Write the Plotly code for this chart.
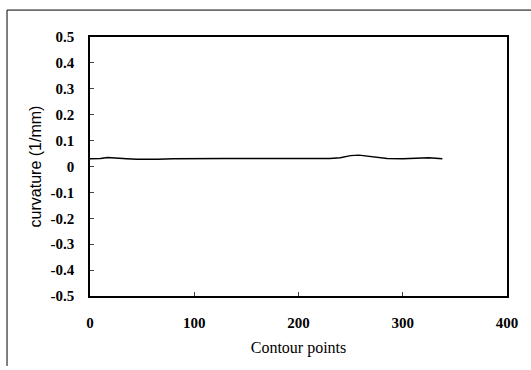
import plotly.graph_objects as go

x_points = [0, 10, 17, 25, 35, 45, 55, 65, 80, 100, 130, 160, 190, 210, 230, 240, 250, 258, 270, 285, 300, 315, 325, 338]
curvature = [0.030, 0.031, 0.035, 0.032, 0.030, 0.028, 0.027, 0.028, 0.030, 0.031, 0.031, 0.031, 0.031,
             0.032, 0.031, 0.034, 0.042, 0.044, 0.037, 0.031, 0.030, 0.032, 0.034, 0.030]
y_ticks = [0.5, 0.4, 0.3, 0.2, 0.1, 0, -0.1, -0.2, -0.3, -0.4, -0.5]
y_labels = ["0.5", "0.4", "0.3", "0.2", "0.1", "0", "-0.1", "-0.2", "-0.3", "-0.4", "-0.5"]
x_ticks = [0, 100, 200, 300, 400]

font = "Liberation Serif"

fig = go.Figure()
fig.add_trace(go.Scatter(x=x_points, y=curvature, mode="lines",
                         line=dict(color="black", width=1.4), showlegend=False))

fig.update_layout(
    width=531, height=370,
    margin=dict(l=90, r=24, t=37, b=74),
    paper_bgcolor="white", plot_bgcolor="white",
    font=dict(family=font, color="black", size=15),
    xaxis=dict(range=[0, 400], tickvals=x_ticks, ticks="inside", ticklen=4,
               showline=True, linecolor="black", linewidth=1.5, mirror=True,
               showgrid=False, zeroline=False, ticklabelstandoff=12,
               tickfont=dict(family=font, size=15, weight=600),
               title=dict(text="Contour points", font=dict(family=font, size=16), standoff=12)),
    yaxis=dict(range=[-0.5, 0.5], tickvals=y_ticks, ticktext=y_labels, ticks="inside", ticklen=4,
               showline=True, linecolor="black", linewidth=1.5, mirror=True,
               showgrid=False, zeroline=False, ticklabelstandoff=11,
               tickfont=dict(family=font, size=15, weight=600),
               title=dict(text="curvature (1/mm)", font=dict(family="Liberation Sans", size=16), standoff=5)),
    shapes=[
        dict(type="line", xref="paper", yref="paper", x0=-0.199, x1=1.06, y0=1.104, y1=1.104,
             line=dict(color="black", width=1)),
        dict(type="line", xref="paper", yref="paper", x0=-0.199, x1=-0.199, y0=1.104, y1=-0.27,
             line=dict(color="black", width=1)),
    ],
)

fig.write_html("out.html")
